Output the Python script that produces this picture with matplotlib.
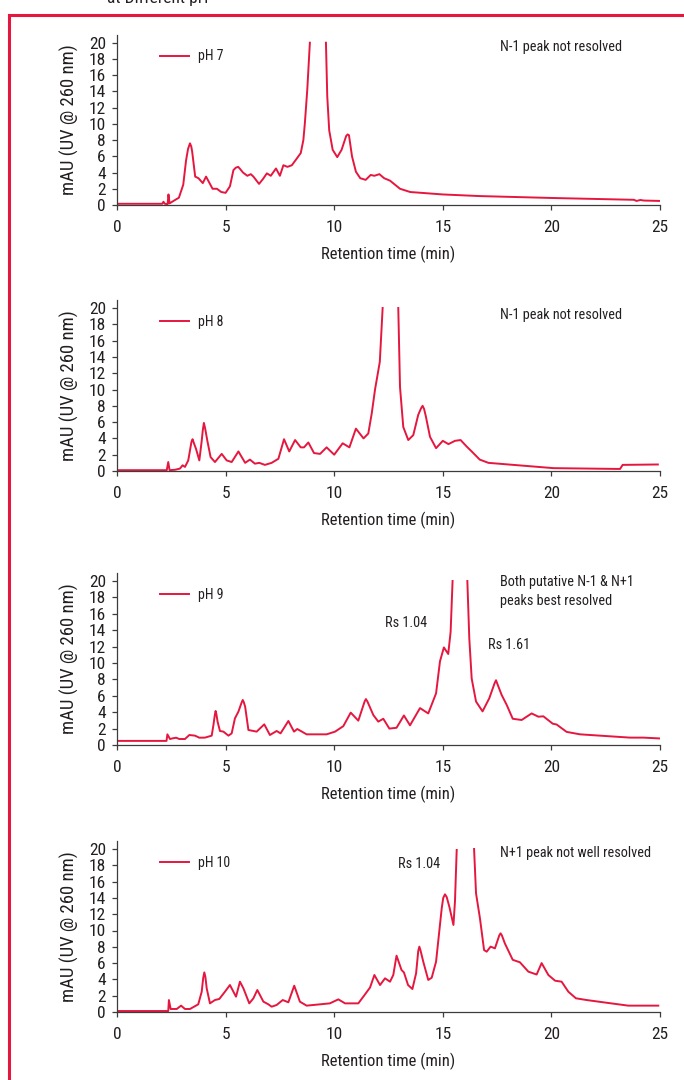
import numpy as np
import matplotlib
matplotlib.use("Agg")
import matplotlib.pyplot as plt
from matplotlib import font_manager

nan = np.nan

# ---------------- data ----------------
t_ph7 = [0, 2.08, 2.14, 2.2, 2.33, 2.37, 2.42, 2.6, 2.85, 3.05, 3.18, 3.27, 3.36, 3.42, 3.46,
         3.6, 3.75, 3.95, 4.1, 4.22, 4.4, 4.6, 4.8, 5.0, 5.2, 5.36, 5.47, 5.58, 5.68, 5.8,
         6.0, 6.16, 6.28, 6.54, 6.72, 6.9, 7.08, 7.32, 7.5, 7.66, 7.85, 8.05, 8.27, 8.46,
         8.58, 8.65, 8.76, 8.88, 9.25, 9.62, 9.68, 9.77, 9.93, 10.14, 10.34, 10.55, 10.62,
         10.68, 10.82, 11.0, 11.2, 11.45, 11.68, 11.85, 12.08, 12.3, 12.57, 13.03, 13.5,
         15.0, 16.7, 20.1, 23.8, 23.92, 24.1, 24.25, 25.0]
v_ph7 = [0.15, 0.15, 0.4, 0.15, 0.1, 1.3, 0.2, 0.5, 0.9, 2.5, 5.5, 6.9, 7.6, 7.2, 6.6,
         3.5, 3.3, 2.7, 3.5, 2.9, 2.0, 2.0, 1.6, 1.5, 2.3, 4.3, 4.6, 4.7, 4.4, 4.0,
         3.6, 3.8, 3.5, 2.6, 3.2, 3.9, 3.6, 4.5, 3.6, 4.9, 4.7, 4.9, 5.7, 6.4,
         8.0, 10.1, 14.2, 20, nan, 20, 13.4, 9.2, 6.8, 5.9, 6.8, 8.5, 8.7,
         8.6, 6.0, 4.1, 3.3, 3.1, 3.7, 3.6, 3.8, 3.3, 3.0, 2.0, 1.6,
         1.3, 1.1, 0.86, 0.64, 0.5, 0.62, 0.55, 0.5]

t_ph8 = [0, 2.29, 2.36, 2.42, 2.67, 2.9, 3.02, 3.13, 3.28, 3.43, 3.48, 3.53, 3.64, 3.79,
         3.9, 3.95, 4.0, 4.06, 4.16, 4.31, 4.51, 4.82, 5.05, 5.28, 5.59, 5.9, 6.12, 6.35,
         6.55, 6.81, 7.12, 7.43, 7.69, 7.93, 8.2, 8.46, 8.61, 8.81, 9.07, 9.35, 9.65, 10.0,
         10.39, 10.7, 11.0, 11.35, 11.57, 11.73, 11.88, 12.1, 12.23, 12.6, 12.95, 13.03,
         13.18, 13.41, 13.64, 13.87, 14.0, 14.07, 14.14, 14.22, 14.41, 14.69, 15.0, 15.26,
         15.56, 15.82, 16.1, 16.33, 16.7, 17.1, 18.25, 20.1, 23.16, 23.28, 24.9]
v_ph8 = [0.1, 0.1, 1.1, 0.1, 0.15, 0.3, 0.7, 0.5, 1.3, 3.6, 3.9, 3.5, 2.7, 1.3,
         3.7, 5.0, 5.9, 5.2, 3.7, 1.7, 1.1, 2.1, 1.3, 1.1, 2.4, 1.0, 1.4, 0.9,
         1.0, 0.75, 1.0, 1.5, 3.9, 2.4, 3.8, 2.9, 2.9, 3.5, 2.2, 2.1, 2.9, 2.0,
         3.4, 2.9, 5.2, 4.0, 4.6, 7.1, 10.0, 13.4, 20, nan, 20, 10.3,
         5.4, 3.8, 4.4, 6.9, 7.7, 8.0, 7.6, 6.7, 4.2, 2.8, 3.7, 3.3,
         3.7, 3.8, 3.0, 2.4, 1.4, 1.0, 0.75, 0.35, 0.25, 0.75, 0.8]

t_ph9 = [0, 2.28, 2.32, 2.44, 2.56, 2.72, 2.87, 3.13, 3.33, 3.59, 3.79, 4.05, 4.36, 4.44,
         4.5, 4.54, 4.58, 4.63, 4.74, 4.9, 5.13, 5.28, 5.43, 5.59, 5.74, 5.79, 5.84, 5.9,
         6.05, 6.43, 6.78, 7.04, 7.35, 7.53, 7.89, 8.15, 8.3, 8.73, 9.65, 10.04, 10.42,
         10.76, 11.11, 11.4, 11.46, 11.53, 11.8, 12.03, 12.26, 12.54, 12.87, 13.21, 13.49,
         13.95, 14.33, 14.69, 14.87, 15.05, 15.25, 15.36, 15.45, 15.8, 16.13, 16.22, 16.33,
         16.53, 16.83, 17.14, 17.38, 17.45, 17.52, 17.71, 17.94, 18.22, 18.63, 19.09, 19.4,
         19.63, 20.06, 20.24, 20.7, 21.32, 23.62, 24.23, 24.99]
v_ph9 = [0.5, 0.5, 1.3, 0.73, 0.81, 0.89, 0.73, 0.73, 1.22, 1.14, 0.89, 0.9, 1.14, 2.44,
         3.6, 4.15, 3.7, 2.85, 1.71, 1.63, 1.14, 1.42, 3.25, 4.07, 5.2, 5.49, 5.2, 4.67,
         1.83, 1.63, 2.52, 1.22, 1.71, 1.42, 2.93, 1.63, 1.95, 1.3, 1.3, 1.63, 2.3,
         3.95, 2.97, 5.3, 5.6, 5.3, 3.66, 2.85, 3.2, 2.0, 2.1, 3.6, 2.4,
         4.5, 3.85, 6.3, 10.2, 11.9, 11.1, 13.8, 20, nan, 20, 13.0, 8.1,
         5.3, 4.1, 5.7, 7.5, 7.9, 7.4, 6.1, 4.9, 3.2, 3.05, 3.85, 3.45,
         3.5, 2.6, 2.5, 1.6, 1.3, 0.9, 0.9, 0.8]

t_ph10 = [0, 2.36, 2.39, 2.47, 2.75, 2.95, 3.13, 3.36, 3.74, 3.9, 3.97, 4.02, 4.07, 4.13,
          4.28, 4.51, 4.71, 4.97, 5.2, 5.36, 5.48, 5.66, 5.82, 6.09, 6.28, 6.46, 6.74, 6.97,
          7.12, 7.35, 7.63, 7.89, 8.16, 8.42, 8.73, 9.8, 10.19, 10.5, 11.11, 11.34, 11.65,
          11.85, 12.11, 12.34, 12.57, 12.72, 12.87, 13.1, 13.21, 13.4, 13.6, 13.77, 13.87,
          13.92, 13.97, 14.1, 14.33, 14.49, 14.69, 14.95, 15.02, 15.1, 15.18, 15.3, 15.49,
          15.56, 15.64, 16.0, 16.44, 16.53, 16.71, 16.9, 17.02, 17.2, 17.4, 17.6, 17.66,
          17.72, 17.86, 18.22, 18.55, 18.94, 19.32, 19.55, 19.86, 20.17, 20.47, 20.78,
          21.13, 21.62, 22.39, 23.54, 24.92]
v_ph10 = [0.12, 0.12, 1.47, 0.37, 0.37, 0.78, 0.37, 0.37, 0.94, 2.49, 4.2, 4.86, 4.3, 2.9,
          1.06, 1.47, 1.6, 2.49, 3.31, 2.49, 1.88, 3.72, 2.9, 1.06, 1.68, 2.7, 1.27, 0.94,
          0.65, 0.86, 1.47, 1.19, 3.23, 1.27, 0.78, 1.06, 1.55, 1.06, 1.06, 1.88, 3.0,
          4.54, 3.31, 4.13, 3.72, 4.54, 6.91, 5.15, 4.86, 3.31, 2.82, 4.74, 7.5,
          8.02, 7.6, 6.18, 3.93, 4.21, 6.18, 12.72, 14.0, 14.44, 14.1, 12.93, 10.68,
          13.54, 19.88, nan, 20, 14.56, 11.5, 7.6, 7.4, 8.02, 7.81, 9.4, 9.65,
          9.4, 8.4, 6.4, 6.1, 4.95, 4.6, 6.0, 4.54, 3.84, 3.72, 2.49,
          1.68, 1.47, 1.19, 0.78, 0.78]

series_labels = ["pH 7", "pH 8", "pH 9", "pH 10"]
x_ticks = [0, 5, 10, 15, 20, 25]
y_ticks = [0, 2, 4, 6, 8, 10, 12, 14, 16, 18, 20]
x_label = "Retention time (min)"
y_label = "mAU (UV @ 260 nm)"
title_text = "at Different pH"

notes = [
    [("N-1 peak not resolved", 17.63, 19.5)],
    [("N-1 peak not resolved", 17.63, 19.1)],
    [("Both putative N-1 & N+1\npeaks best resolved", 17.63, 18.7),
     ("Rs 1.04", 12.34, 14.9), ("Rs 1.61", 17.08, 12.2)],
    [("N+1 peak not well resolved", 17.63, 19.5), ("Rs 1.04", 12.94, 18.1)],
]

# ---------------- style ----------------
avail = {f.name for f in font_manager.fontManager.ttflist}
fam = [f for f in ["Liberation Sans Narrow", "Roboto Condensed", "Liberation Sans"] if f in avail] + ["DejaVu Sans"]
plt.rcParams["font.family"] = fam

RED = "#e5173f"
INK = "#231f20"

W, H = 684, 1080
fig = plt.figure(figsize=(W / 100, H / 100), dpi=100)

ax_left = 117 / W
ax_w = 543 / W
zero_px = [205, 471, 745, 1012]
unit_px = [8.115, 8.15, 8.2, 8.15]
ytop = 21.0

series = [(t_ph7, v_ph7), (t_ph8, v_ph8), (t_ph9, v_ph9), (t_ph10, v_ph10)]

for i, ((t, v), lab) in enumerate(zip(series, series_labels)):
    h_px = unit_px[i] * ytop
    ax = fig.add_axes([ax_left, 1 - zero_px[i] / H, ax_w, h_px / H])
    ax.plot(t, v, color=RED, lw=1.4, label=lab, solid_joinstyle="round")
    ax.set_xlim(0, 25)
    ax.set_ylim(0, ytop)
    ax.set_xticks(x_ticks)
    ax.set_yticks(y_ticks)
    for s in ["top", "right"]:
        ax.spines[s].set_visible(False)
    for s in ["left", "bottom"]:
        ax.spines[s].set_color("#3c3c3c")
        ax.spines[s].set_linewidth(0.9)
    ax.tick_params(axis="both", direction="out", length=3.5, width=0.9, color="#3c3c3c",
                   labelsize=12.5, labelcolor=INK)
    ax.tick_params(axis="x", pad=7)
    ax.tick_params(axis="y", pad=4.5)
    ax.set_xlabel(x_label, fontsize=12, color=INK, labelpad=8)
    ax.set_ylabel(y_label, fontsize=13.5, color=INK, labelpad=7)
    leg = ax.legend(loc="center left", bbox_to_anchor=(0.079, 18.3 / ytop), frameon=False,
                    borderaxespad=0, borderpad=0, handlelength=2.1, handletextpad=0.65,
                    fontsize=10)
    for tx in leg.get_texts():
        tx.set_color(INK)
    for txt, x, y in notes[i]:
        ax.text(x, y, txt, fontsize=10.3, color=INK, ha="left", va="center", linespacing=1.4)

# red frame lines and the title, cut off at the top edge as in the reference
fig.add_artist(plt.Line2D([9 / W, 1.0], [1 - 15 / H, 1 - 15 / H], transform=fig.transFigure,
                          color=RED, lw=2.2))
fig.add_artist(plt.Line2D([9 / W, 9 / W], [1 - 15 / H, 0.0], transform=fig.transFigure,
                          color=RED, lw=2.2))
fig.text(107 / W, 1 - 3 / H, title_text, fontsize=12.5, color=INK, ha="left", va="baseline")

fig.savefig("out.png", dpi=100)
